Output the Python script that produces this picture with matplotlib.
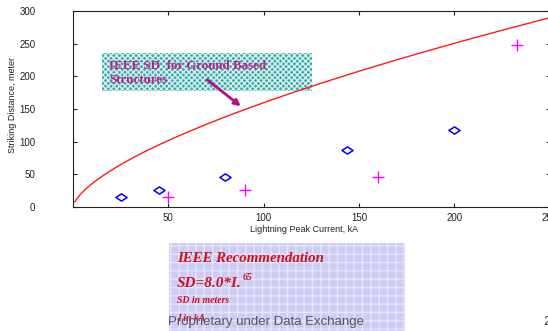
import numpy as np
import matplotlib
matplotlib.use("Agg")
import matplotlib.pyplot as plt
from matplotlib.patches import Rectangle, FancyArrowPatch
from matplotlib.path import Path

# ---- data ----
curve_I = np.arange(1, 251, 1.0)          # kA
coef, expo = 8.0, 0.65                    # IEEE: SD = 8.0 * I^0.65
diamond_I = [25, 45, 80, 144, 200]
diamond_SD = [15, 26, 46, 87, 118]
cross_I = [50, 90, 160, 233]
cross_SD = [15, 26, 46, 248]
xticks = [50, 100, 150, 200, 250]
yticks = [0, 50, 100, 150, 200, 250, 300]

W, H = 548, 331
fig = plt.figure(figsize=(W / 100, H / 100), dpi=100)
fig.patch.set_facecolor("white")

def fx(px):
    return px / W

def fy(py):
    return 1 - py / H

ax = fig.add_axes([fx(73), fy(207), fx(549.5) - fx(73), fy(11) - fy(207)])
ax.set_xlim(0, 250)
ax.set_ylim(0, 300)

# teal annotation box (drawn in the axes so the curve passes over it)
tb = Rectangle((fx(102), fy(91)), fx(312) - fx(102), fy(53) - fy(91),
               transform=fig.transFigure, facecolor="#37aaa6",
               edgecolor="#d8f0ee", hatch="xxxxxx", lw=0, zorder=1,
               clip_on=False)
ax.add_patch(tb)

sd = coef * curve_I ** expo
ax.plot(curve_I, sd, color="#ff1a1a", lw=1.0, clip_on=False, zorder=3)

dmark = Path([(-1, 0), (0, 0.65), (1, 0), (0, -0.65), (-1, 0)],
             [Path.MOVETO, Path.LINETO, Path.LINETO, Path.LINETO, Path.CLOSEPOLY])
ax.plot(diamond_I, diamond_SD, linestyle="none", marker=dmark, markersize=8,
        markerfacecolor="none", markeredgecolor="#0000ff", markeredgewidth=1.1,
        zorder=3)
ax.plot(cross_I, cross_SD, linestyle="none", marker="+", markersize=8,
        color="#ff00ff", markeredgewidth=1.0, zorder=3)

font = "Liberation Sans"
ax.set_xticks(xticks)
ax.set_yticks(yticks)
ax.set_xticklabels([str(t) for t in xticks], fontsize=7, family=font)
ax.set_yticklabels([str(t) for t in yticks], fontsize=7, family=font)
ax.tick_params(direction="in", length=3, width=0.8, top=True, right=True,
               colors="#222222")
ax.tick_params(axis="y", pad=27)
ax.tick_params(axis="x", pad=4)
for s in ax.spines.values():
    s.set_color("#222222")
    s.set_linewidth(0.8)

fig.text(fx(304), fy(229), "Lightning Peak Current, kA", fontsize=6.5,
         family=font, ha="center", va="center", color="#222222")
fig.text(fx(13), fy(105), "Striking Distance, meter", fontsize=6.5,
         family=font, ha="center", va="center", rotation=90, color="#222222")

mag = "#c21a8c"
fig.text(fx(109), fy(69), "IEEE SD  for Ground Based", fontsize=9.4,
         family="Liberation Serif", weight="bold", color=mag,
         ha="left", va="baseline", zorder=4)
fig.text(fx(109), fy(83), "Structures", fontsize=9.4,
         family="Liberation Serif", weight="bold", color=mag,
         ha="left", va="baseline", zorder=4)
arr = FancyArrowPatch((fx(205), fy(78)), (fx(243), fy(108)),
                      transform=fig.transFigure, arrowstyle="-|>",
                      mutation_scale=9, color="#b0108a", lw=2.0, zorder=5)
fig.patches.append(arr)

# lavender recommendation box
lb = Rectangle((fx(169), fy(333)), fx(405) - fx(169), fy(243) - fy(333),
               transform=fig.transFigure, facecolor="#cdcdf4",
               edgecolor="#e4e4fb", hatch="++", lw=0, zorder=3)
fig.patches.append(lb)
red = "#d0101a"
serif = "Liberation Serif"
fig.text(fx(177), fy(262), "IEEE Recommendation", fontsize=10.7, family=serif,
         weight="bold", style="italic", color=red, va="baseline", zorder=4)
t = fig.text(fx(177), fy(287), "SD=8.0*I.", fontsize=11, family=serif,
             weight="bold", style="italic", color=red, va="baseline", zorder=4)
fig.canvas.draw()
bb = t.get_window_extent(renderer=fig.canvas.get_renderer())
fig.text(bb.x1 / W + 0.002, fy(280), "65", fontsize=7, family=serif,
         weight="bold", style="italic", color=red, va="baseline", zorder=4)
fig.text(fx(177), fy(303), "SD in meters", fontsize=7, family=serif,
         weight="bold", style="italic", color=red, va="baseline", zorder=4)
fig.text(fx(177), fy(321), "I in kA", fontsize=7, family=serif,
         weight="bold", style="italic", color=red, va="baseline", zorder=4)

fig.text(fx(168), fy(325), "Proprietary under Data Exchange", fontsize=9.5,
         family=font, color="#555555", va="baseline", zorder=6)
fig.text(fx(543), fy(325), "2", fontsize=9.5, family=font, color="#333333",
         va="baseline", zorder=6)

fig.savefig("out.png", dpi=100)
